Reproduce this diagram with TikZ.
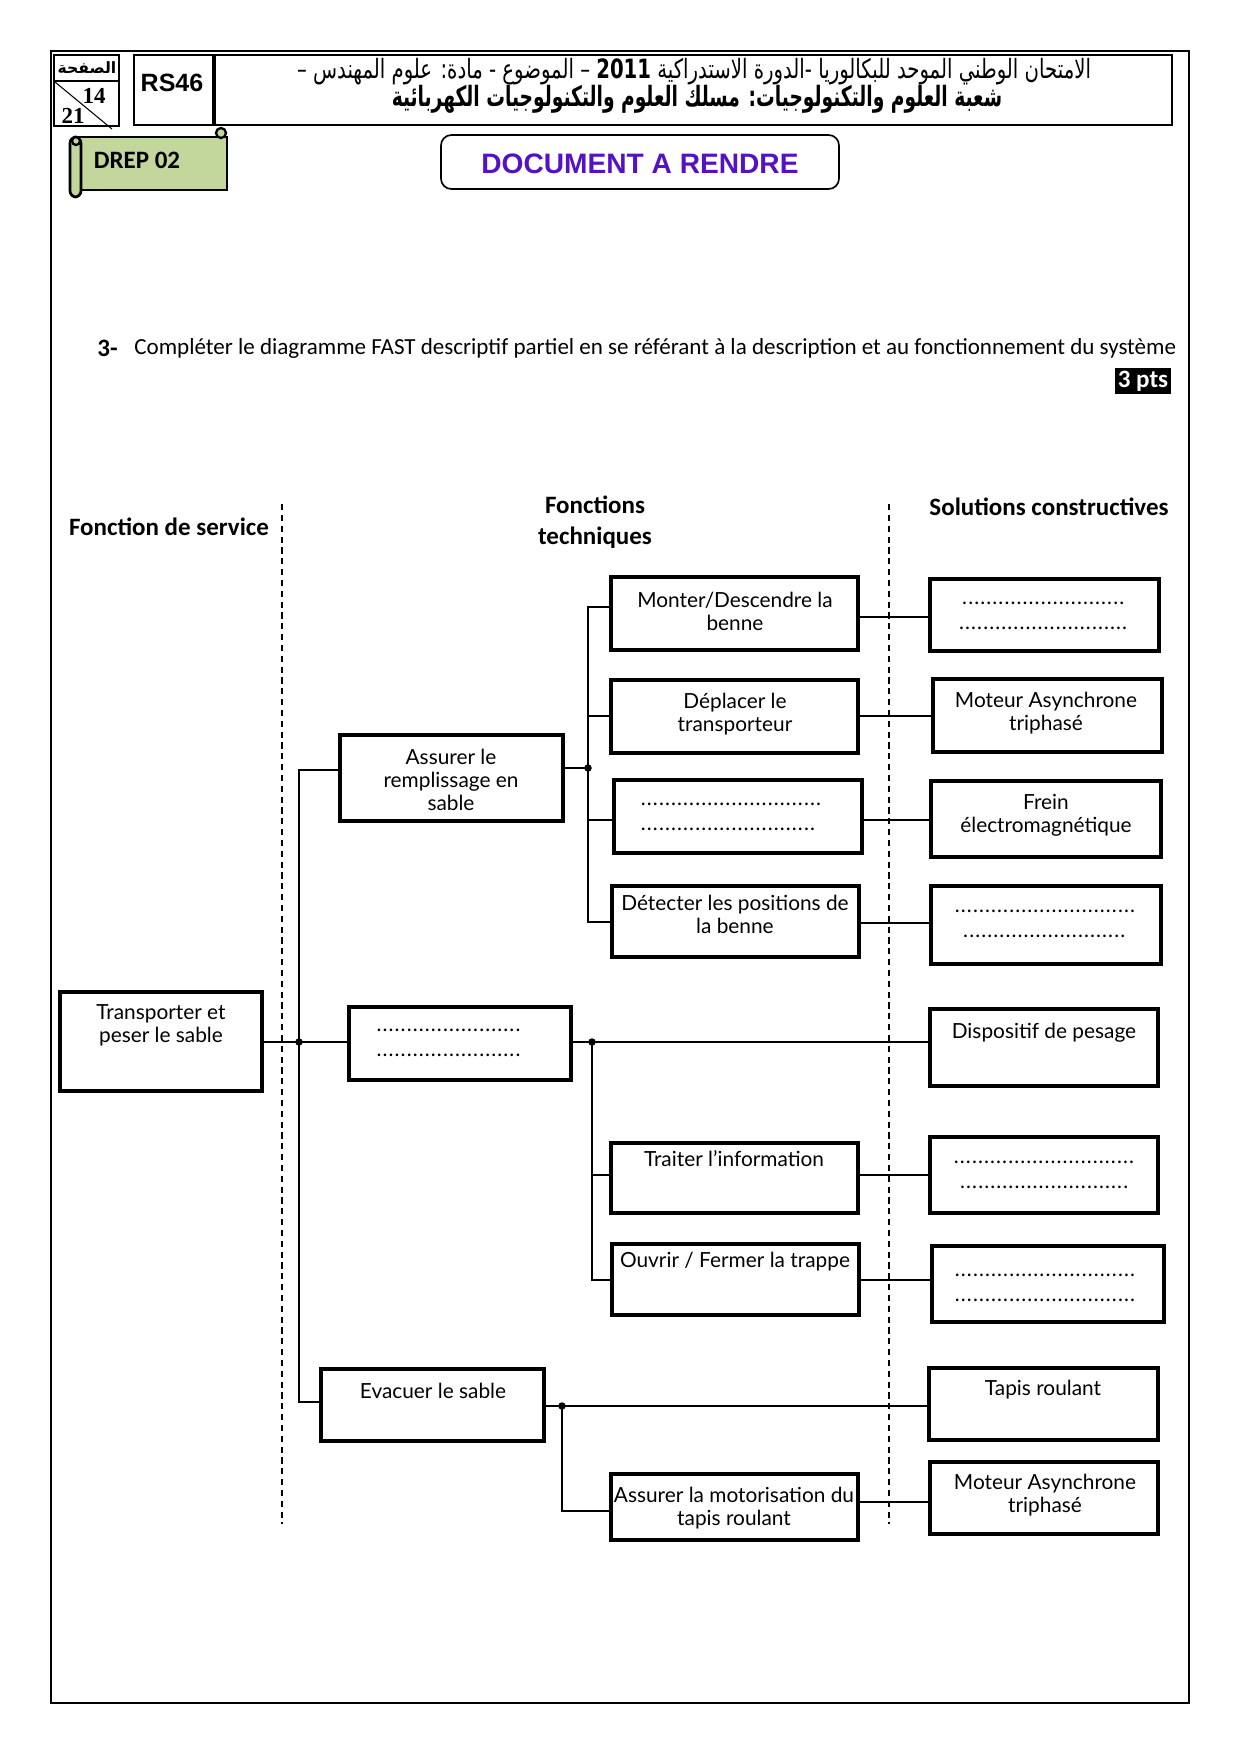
\documentclass[tikz,border=0pt]{standalone}
\usepackage{fontspec}
\usetikzlibrary{fit,calc}
\setmainfont{Lato}
\newfontfamily\calfont{Carlito}
\newfontfamily\arabicfont[Script=Arabic]{DejaVu Sans}
\newfontfamily\arialfont{Liberation Sans}
\newfontfamily\timesfont{Liberation Serif}
\TeXXeTstate=1
\definecolor{scrollgreen}{RGB}{195,214,155}
\definecolor{docblue}{RGB}{84,18,196}
\newcommand\dts[1]{\hbox to #1{\leaders\hbox to 2.9pt{\hss.\hss}\hfill}}
\begin{document}
\begin{tikzpicture}[x=0.48pt,y=-0.48pt,
  fbox/.style={draw, line width=1.7pt, inner sep=0pt},
  hbox/.style={draw, line width=1.3pt, inner sep=0pt},
  conn/.style={line width=0.55pt},
  jdot/.style={circle, fill, inner sep=0pt, minimum size=3.6pt},
  txt/.style={inner sep=0pt, align=center, font=\fontsize{10}{11}\selectfont},
  head/.style={inner sep=0pt, align=center, font=\calfont\bfseries\fontsize{12}{14.6}\selectfont},
  sep/.style={dash pattern=on 3pt off 2.2pt, line width=0.6pt}]
\useasboundingbox (0,0) rectangle (1240,1755);
% outer frame
\draw[line width=1pt] (51,51) rectangle (1189,1703);
% header
\node[hbox, fit={(54,55) (119,126)}] (page) {};
\draw[line width=1pt] (54,81) -- (119,81);
\draw[line width=0.5pt] (55,82) -- (112,129);
\node[inner sep=0pt, font=\arabicfont\bfseries\fontsize{7.5}{8}\selectfont] (pagelbl) at (87,68) {\beginR الصفحة\endR};
\node[inner sep=0pt, font=\timesfont\bfseries\fontsize{11}{12}\selectfont] (p14) at (94,96) {14};
\node[inner sep=0pt, font=\timesfont\bfseries\fontsize{11}{12}\selectfont] (p21) at (73,116) {21};
\node[hbox, fit={(134,55) (213,125)}] (rs) {};
\node[inner sep=0pt, font=\arialfont\bfseries\fontsize{12}{14}\selectfont] (rstxt) at (172,83) {RS46};
\node[hbox, fit={(215,55) (1172,125)}] (title) {};
\node[inner sep=0pt] (ar1) at (694,72) {\scalebox{1}[1.35]{\resizebox{381pt}{!}{\arabicfont\beginR الامتحان الوطني الموحد للبكالوريا -الدورة الاستدراكية \beginL{\bfseries 2011}\endL{} – الموضوع - مادة: علوم المهندس –\endR}}};
\node[inner sep=0pt] (ar2) at (697,99) {\scalebox{1}[1.5]{\resizebox{293pt}{!}{\arabicfont\bfseries\beginR شعبة العلوم والتكنولوجيات: مسلك العلوم والتكنولوجيات الكهربائية\endR}}};
% DREP scroll
\draw[line width=1.3pt, fill=scrollgreen] (76,137) -- (227,137) -- (227,190) -- (76,190) -- cycle;
\draw[line width=1.3pt, fill=scrollgreen, rounded corners=3pt] (70,137) rectangle (81,197);
\draw[line width=1.1pt, fill=scrollgreen] (221,133) circle (5);
\draw[line width=1.1pt, fill=scrollgreen] (76,141) circle (4);
\node[inner sep=0pt, font=\calfont\bfseries\fontsize{12}{14}\selectfont] (drep) at (137,160) {DREP 02};
% document a rendre
\node[draw, line width=0.8pt, rounded corners=5pt, fit={(441,135) (839,189)}, inner sep=0pt] (docbox) {};
\node[inner sep=0pt, text=docblue, font=\arialfont\bfseries\fontsize{13.5}{15}\selectfont] (doctxt) at (640,164) {DOCUMENT A RENDRE};
% question
\node[anchor=west, inner sep=0pt, font=\calfont\bfseries\fontsize{12}{14}\selectfont] (qnum) at (97,348) {3-};
\node[anchor=west, inner sep=0pt, font=\calfont\fontsize{12}{14}\selectfont] (qtxt) at (134,348) {\resizebox{500pt}{!}{Compléter le diagramme FAST descriptif partiel en se référant à la description et au fonctionnement du système}};
\node[fill=black, text=white, inner sep=1.2pt, font=\calfont\bfseries\fontsize{12}{13}\selectfont] (pts) at (1143,381) {3 pts};
% column headers
\node[head] (h1) at (169,527) {Fonction de service};
\node[head] (h2) at (595,522) {Fonctions\\techniques};
\node[head] (h3) at (1049,507) {Solutions constructives};
\draw[sep] (282,504) -- (282,1524);
\draw[sep] (889,504) -- (889,1524);
% boxes
\node[fbox, fit={(60,992) (262,1091)}] (b1) {};
\node[fbox, fit={(340,735) (563,821)}] (b2) {};
\node[fbox, fit={(349,1007) (571,1080)}] (b3) {};
\node[fbox, fit={(321,1369) (544,1441)}] (b4) {};
\node[fbox, fit={(611,577) (858,650)}] (b5) {};
\node[fbox, fit={(611,680) (858,753)}] (b6) {};
\node[fbox, fit={(614,780) (862,853)}] (b7) {};
\node[fbox, fit={(612,886) (859,957)}] (b8) {};
\node[fbox, fit={(611,1143) (858,1213)}] (b9) {};
\node[fbox, fit={(612,1244) (859,1315)}] (b10) {};
\node[fbox, fit={(611,1474) (858,1540)}] (b11) {};
\node[fbox, fit={(930,579) (1159,651)}] (s1) {};
\node[fbox, fit={(933,679) (1162,752)}] (s2) {};
\node[fbox, fit={(931,781) (1161,857)}] (s3) {};
\node[fbox, fit={(931,886) (1161,964)}] (s4) {};
\node[fbox, fit={(930,1009) (1158,1086)}] (s5) {};
\node[fbox, fit={(930,1137) (1158,1213)}] (s6) {};
\node[fbox, fit={(932,1246) (1164,1322)}] (s7) {};
\node[fbox, fit={(929,1368) (1158,1440)}] (s8) {};
\node[fbox, fit={(930,1462) (1158,1534)}] (s9) {};
% texts
\node[txt] (t1) at (161,1025) {Transporter et\\peser le sable};
\node[txt] (t2) at (451,780) {Assurer le\\remplissage en\\sable};
\node[txt] (t3) at (451,1043) {\dts{72pt}\\[1pt]\dts{72pt}};
\node[txt] (t4) at (433,1391) {Evacuer le sable};
\node[txt] (t5) at (735,611) {Monter/Descendre la\\benne};
\node[txt] (t6) at (735,714) {Déplacer le\\transporteur};
\node[txt] (t7) at (732,817) {\dts{88pt}\\[1pt]\hbox to 88pt{\dts{85pt}\hss}};
\node[txt] (t8) at (735,914) {Détecter les positions de\\la benne};
\node[txt] (t9) at (734,1159) {Traiter l’information};
\node[txt] (t10) at (735,1262) {Ouvrir / Fermer la trappe};
\node[txt] (t11) at (734,1508) {Assurer la motorisation du\\tapis roulant};
\node[txt] (u1) at (1045,616) {\hbox to 90pt{\hss\dts{80pt}\hss}\\[1pt]\dts{83pt}};
\node[txt] (u2) at (1046,713) {Moteur Asynchrone\\triphasé};
\node[txt] (u3) at (1046,815) {Frein\\électromagnétique};
\node[txt] (u4) at (1046,924) {\dts{88pt}\\[1pt]\hbox to 88pt{\hss\dts{80pt}\hss}};
\node[txt] (u5) at (1044,1033) {Dispositif de pesage};
\node[txt] (u6) at (1045,1175) {\dts{88pt}\\[1pt]\hbox to 88pt{\hss\dts{82pt}\hss}};
\node[txt] (u7) at (1046,1288) {\dts{88pt}\\[1pt]\dts{88pt}};
\node[txt] (u8) at (1043,1390) {Tapis roulant};
\node[txt] (u9) at (1045,1495) {Moteur Asynchrone\\triphasé};
% junctions
\coordinate (j1) at (299,1042);
\coordinate (j2) at (588,768);
\coordinate (j3) at (592,1042);
\coordinate (j4) at (562,1406);
% level 1
\draw[conn] (b1.east |- j1) -- (j1) -- (b3.west |- j1);
\draw[conn] (b2.west |- 0,770) -| (j1) |- (b4.west |- 0,1402);
\node[jdot] (d1) at (j1) {};
% branch 1
\draw[conn] (b2.east |- j2) -- (j2);
\draw[conn] (b5.west |- 0,607) -| (j2) |- (b8.west |- 0,922);
\draw[conn] (j2 |- 0,716) -- (b6.west |- 0,716);
\draw[conn] (j2 |- 0,820) -- (b7.west |- 0,820);
\node[jdot] (d2) at (j2) {};
\draw[conn] (b5.east |- 0,617) -- (s1.west |- 0,617);
\draw[conn] (b6.east |- 0,716) -- (s2.west |- 0,716);
\draw[conn] (b7.east |- 0,820) -- (s3.west |- 0,820);
\draw[conn] (b8.east |- 0,923) -- (s4.west |- 0,923);
% branch 2
\draw[conn] (b3.east |- j3) -- (j3) -- (s5.west |- j3);
\draw[conn] (j3) |- (b10.west |- 0,1280);
\draw[conn] (j3 |- 0,1175) -- (b9.west |- 0,1175);
\node[jdot] (d3) at (j3) {};
\draw[conn] (b9.east |- 0,1175) -- (s6.west |- 0,1175);
\draw[conn] (b10.east |- 0,1280) -- (s7.west |- 0,1280);
% branch 3
\draw[conn] (b4.east |- j4) -- (j4) -- (s8.west |- j4);
\draw[conn] (j4) |- (b11.west |- 0,1511);
\node[jdot] (d4) at (j4) {};
\draw[conn] (b11.east |- 0,1502) -- (s9.west |- 0,1502);
\end{tikzpicture}
\end{document}
